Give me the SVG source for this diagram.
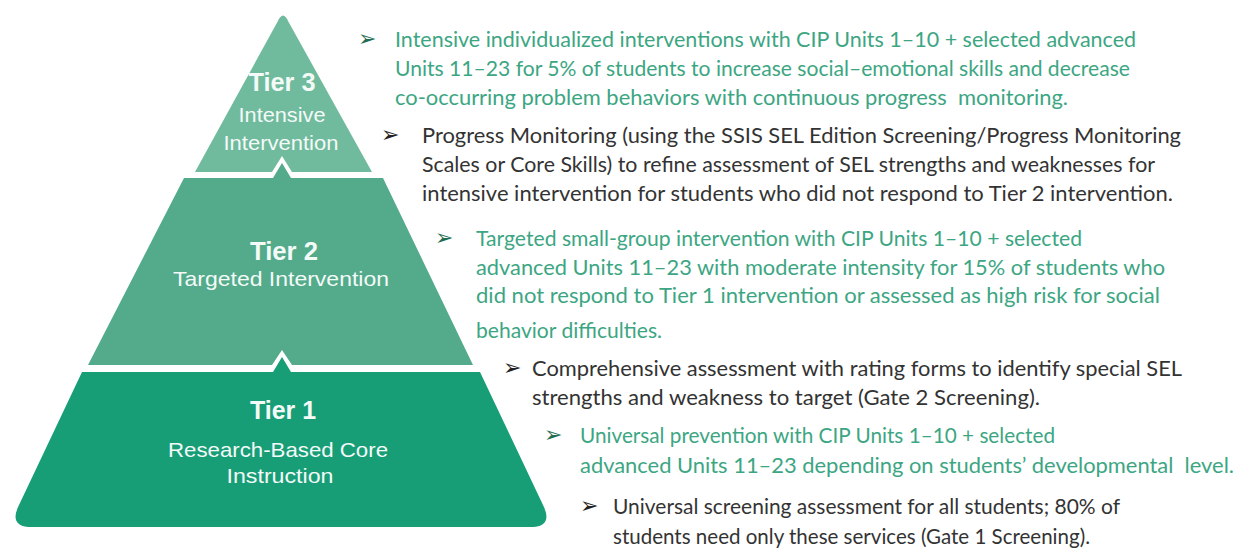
<svg xmlns="http://www.w3.org/2000/svg" width="1251" height="552" viewBox="0 0 1251 552">
<style>
.tl{font-family:"Liberation Sans",Arial,sans-serif;fill:#f4faf7;text-anchor:middle}
.tt{font-size:26px;font-weight:bold}
.ts{font-size:21px}
.rt{font-family:Lato,"Liberation Sans",sans-serif;font-size:21px;white-space:pre}
.g{fill:#3ca683}
.k{fill:#333333}
.bl{font-family:"DejaVu Sans",sans-serif;font-size:22px}
.bg{fill:#1f6e54}
.bk{fill:#222222}
</style>
<rect width="1251" height="552" fill="#ffffff"/>
<g id="tier3">
<path d="M195 172 L272 172 L282 156 L292 172 L372 172 L288.6 22 Q283 9 277.4 22 Z" fill="#70bb9d"/>
<text class="tl tt" x="282" y="91" textLength="67" lengthAdjust="spacingAndGlyphs">Tier 3</text>
<text class="tl ts" x="282" y="122" textLength="87" lengthAdjust="spacingAndGlyphs">Intensive</text>
<text class="tl ts" x="281" y="150" textLength="115" lengthAdjust="spacingAndGlyphs">Intervention</text>
</g>
<g id="tier2">
<path d="M184 178 L273 178 L282 163 L291 178 L383 178 L473 365 L292 365 L282 350 L272 365 L88 365 Z" fill="#53ab8b"/>
<text class="tl tt" x="284" y="260" textLength="68" lengthAdjust="spacingAndGlyphs">Tier 2</text>
<text class="tl ts" x="281" y="286" textLength="216" lengthAdjust="spacingAndGlyphs">Targeted Intervention</text>
</g>
<g id="tier1">
<path d="M82 372 L273 372 L282 357 L291 372 L480 372 L543 505 Q554 527 530 527 L32 527 Q8 527 19 505 Z" fill="#179e77"/>
<text class="tl tt" x="283" y="419" textLength="66" lengthAdjust="spacingAndGlyphs">Tier 1</text>
<text class="tl ts" x="278" y="457" textLength="220" lengthAdjust="spacingAndGlyphs">Research-Based Core</text>
<text class="tl ts" x="280" y="483" textLength="107" lengthAdjust="spacingAndGlyphs">Instruction</text>
</g>
<g id="tier3-intervention" class="rt g">
<text class="bl bg" x="358" y="46">➢</text>
<text x="395" y="47" textLength="741" lengthAdjust="spacingAndGlyphs">Intensive individualized interventions with CIP Units 1–10 + selected advanced</text>
<text x="395" y="76" textLength="735" lengthAdjust="spacingAndGlyphs">Units 11–23 for 5% of students to increase social–emotional skills and decrease</text>
<text x="395" y="105" textLength="673" lengthAdjust="spacingAndGlyphs" xml:space="preserve">co-occurring problem behaviors with continuous progress  monitoring.</text>
</g>
<g id="tier3-assessment" class="rt k">
<text class="bl bk" x="381" y="142">➢</text>
<text x="422" y="143" textLength="759" lengthAdjust="spacingAndGlyphs">Progress Monitoring (using the SSIS SEL Edition Screening/Progress Monitoring</text>
<text x="422" y="172" textLength="733" lengthAdjust="spacingAndGlyphs">Scales or Core Skills) to refine assessment of SEL strengths and weaknesses for</text>
<text x="422" y="201" textLength="751" lengthAdjust="spacingAndGlyphs">intensive intervention for students who did not respond to Tier 2 intervention.</text>
</g>
<g id="tier2-intervention" class="rt g">
<text class="bl bg" x="435" y="245">➢</text>
<text x="476" y="246" textLength="606" lengthAdjust="spacingAndGlyphs">Targeted small-group intervention with CIP Units 1–10 + selected</text>
<text x="476" y="275" textLength="689" lengthAdjust="spacingAndGlyphs">advanced Units 11–23 with moderate intensity for 15% of students who</text>
<text x="476" y="303" textLength="684" lengthAdjust="spacingAndGlyphs">did not respond to Tier 1 intervention or assessed as high risk for social</text>
<text x="476" y="338" textLength="186" lengthAdjust="spacingAndGlyphs">behavior difficulties.</text>
</g>
<g id="tier2-assessment" class="rt k">
<text class="bl bk" x="503" y="375">➢</text>
<text x="532" y="376" textLength="650" lengthAdjust="spacingAndGlyphs">Comprehensive assessment with rating forms to identify special SEL</text>
<text x="532" y="405" textLength="508" lengthAdjust="spacingAndGlyphs">strengths and weakness to target (Gate 2 Screening).</text>
</g>
<g id="tier1-intervention" class="rt g">
<text class="bl bg" x="544" y="442">➢</text>
<text x="580" y="443" textLength="475" lengthAdjust="spacingAndGlyphs">Universal prevention with CIP Units 1–10 + selected</text>
<text x="580" y="473" textLength="654" lengthAdjust="spacingAndGlyphs" xml:space="preserve">advanced Units 11–23 depending on students’ developmental  level.</text>
</g>
<g id="tier1-assessment" class="rt k">
<text class="bl bk" x="580" y="513">➢</text>
<text x="613" y="514" textLength="507" lengthAdjust="spacingAndGlyphs">Universal screening assessment for all students; 80% of</text>
<text x="613" y="544" textLength="477" lengthAdjust="spacingAndGlyphs">students need only these services (Gate 1 Screening).</text>
</g>
</svg>
